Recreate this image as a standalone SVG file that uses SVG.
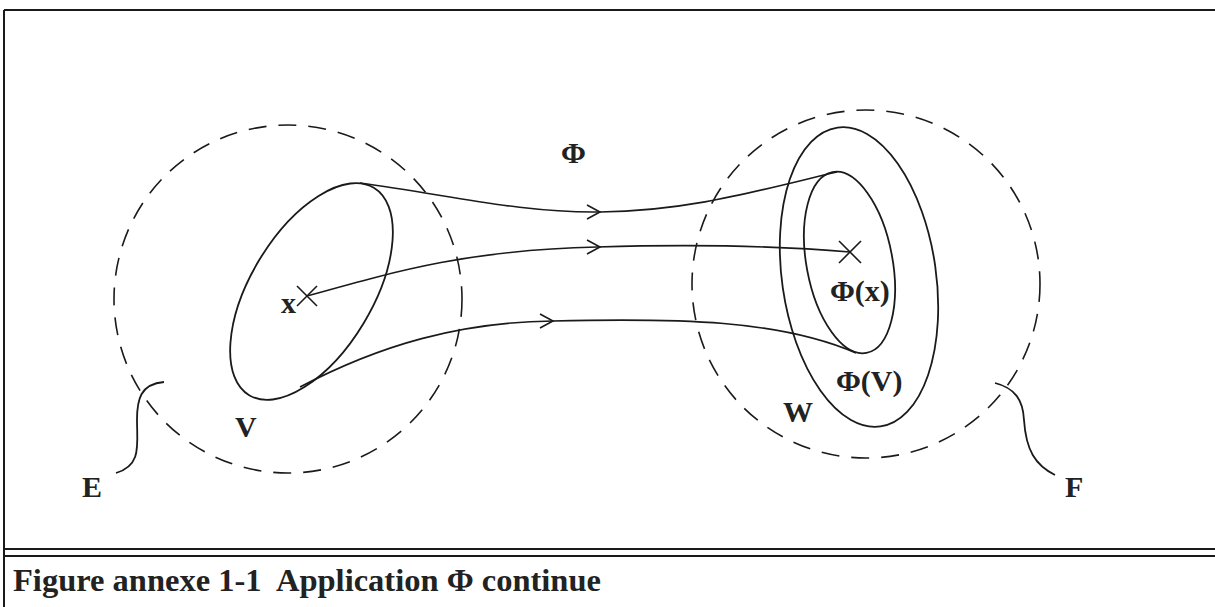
<svg xmlns="http://www.w3.org/2000/svg" width="1215" height="607" viewBox="0 0 1215 607">
<style>
.frame{stroke:#1a1a1a;stroke-width:2;fill:none}
.dash{stroke:#1a1a1a;stroke-width:1.6;fill:none;stroke-dasharray:18 12}
.solid{stroke:#1a1a1a;stroke-width:1.8;fill:none}
.conn{stroke:#1a1a1a;stroke-width:1.6;fill:none}
.lbl{font-family:"Liberation Serif","Times New Roman",serif;font-weight:bold;font-size:30px;fill:#222}
.cap{font-family:"Liberation Serif","Times New Roman",serif;font-weight:bold;font-size:32.5px;fill:#222}
</style>
<defs>
<path id="chev" d="M-13,-7 L0,0 L-13,7" class="conn"/>
</defs>
<rect width="1215" height="607" fill="#fff"/>
<g id="frame">
<path class="frame" d="M4,10 L1215,10 M4,10 L4,607 M4,549 L1215,549 M4,556 L1215,556"/>
</g>
<g id="E">
<circle class="dash" cx="288" cy="299" r="174"/>
<path class="solid" d="M164,382 C140,384 137,400 137,420 C137,445 142,465 116,473"/>
<text class="lbl" x="82" y="497">E</text>
</g>
<g id="F">
<circle class="dash" cx="866" cy="284" r="174"/>
<path class="solid" d="M995,383 C1015,388 1023,400 1024,420 C1026,450 1035,465 1055,475"/>
<text class="lbl" x="1065" y="497">F</text>
</g>
<g id="V">
<ellipse class="solid" cx="311.5" cy="291.5" rx="121" ry="61" transform="rotate(-59 311.5 291.5)"/>
<text class="lbl" x="235" y="437">V</text>
</g>
<g id="x">
<path class="conn" d="M297,286 L317,306 M297,306 L317,286"/>
<text class="lbl" x="281" y="313">x</text>
</g>
<g id="W">
<ellipse class="solid" cx="859" cy="277" rx="77" ry="151" transform="rotate(-8.2 859 277)"/>
<text class="lbl" x="783" y="422">W</text>
<text class="lbl" x="836" y="391">Φ(V)</text>
</g>
<g id="PhiX">
<ellipse class="solid" cx="849.5" cy="262.5" rx="43" ry="92" transform="rotate(-10.6 849.5 262.5)"/>
<path class="conn" d="M839,241 L861,263 M839,263 L861,241"/>
<text class="lbl" x="830" y="301">Φ(x)</text>
</g>
<g id="connectors">
<path class="conn" d="M360,183 C450,195 520,213 600,212 C690,211 760,190 837,172"/>
<path class="conn" d="M307,296 C400,270 470,250 597,247 C700,244 780,246 850,252"/>
<path class="conn" d="M300,387 C380,345 460,322 553,321 C680,318 780,320 856,353"/>
<use href="#chev" transform="translate(600,212)"/>
<use href="#chev" transform="translate(600,247)"/>
<use href="#chev" transform="translate(553,321)"/>
</g>
<text class="lbl" x="561" y="163">Φ</text>
<text class="cap" x="13" y="591" xml:space="preserve">Figure annexe 1-1  Application Φ continue</text>
</svg>
